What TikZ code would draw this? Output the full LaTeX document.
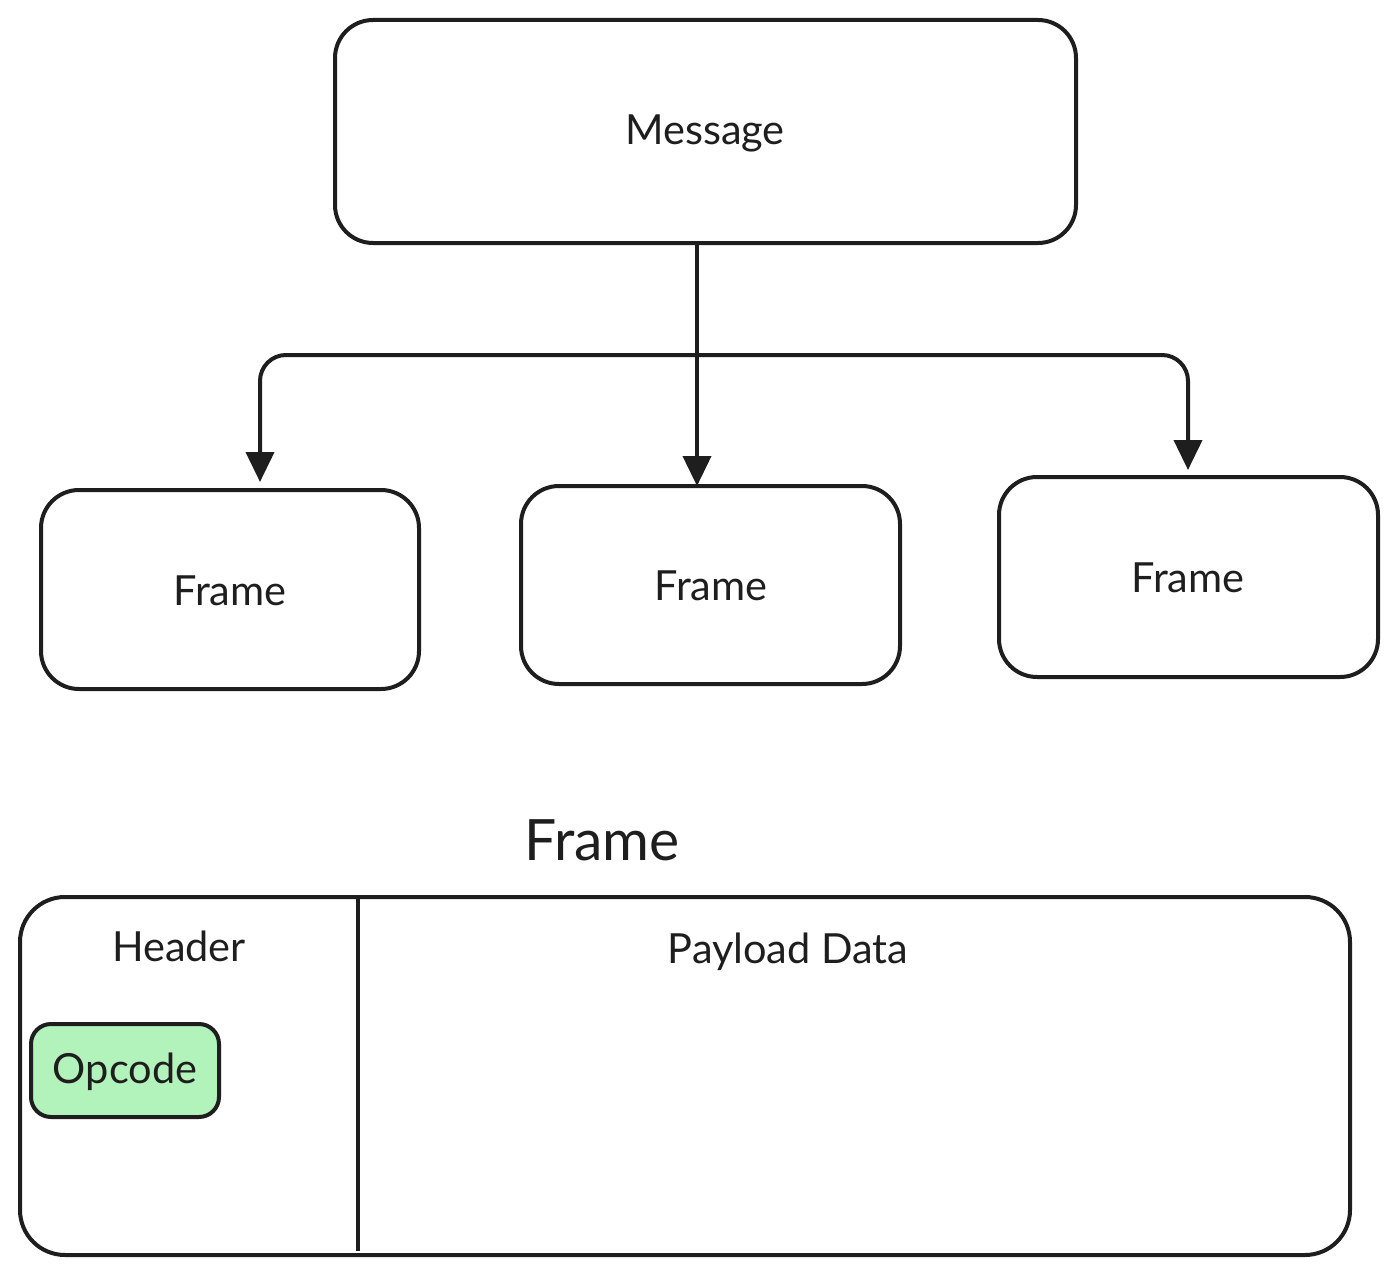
\documentclass[tikz,border=0pt]{standalone}
\usepackage{fontspec}
\setmainfont{Lato}
\usetikzlibrary{arrows.meta,calc}
\definecolor{ink}{HTML}{1E1E1E}
\definecolor{opgreen}{HTML}{B2F2BB}
\begin{document}
\begin{tikzpicture}[x=1pt,y=-1pt,
  box/.style={draw=ink,line width=4pt,rounded corners=38pt,fill=white,inner sep=0pt},
  lbl/.style={text=ink,font=\fontsize{41.5}{46}\selectfont,inner sep=0pt},
  conn/.style={draw=ink,line width=4pt,-{Triangle[width=28pt,length=30pt]},rounded corners=26pt}]
\useasboundingbox (0,0) rectangle (1397,1276);
% Message
\node[box,minimum width=741pt,minimum height=223pt] (msg) at (705.5,131.5) {};
\node[lbl] (msgt) at (705,133) {Message};
% Frames
\node[box,minimum width=378pt,minimum height=199pt] (f1) at (230,589.5) {};
\node[lbl] at (230,591) {Frame};
\node[box,minimum width=379pt,minimum height=198pt] (f2) at (710.5,585) {};
\node[lbl] at (711,586) {Frame};
\node[box,minimum width=379pt,minimum height=200pt] (f3) at (1188.5,577) {};
\node[lbl] at (1188,578) {Frame};
% connectors
\coordinate (split) at (697,355);
\coordinate (t1) at (260,482);
\coordinate (t2) at (697,486);
\coordinate (t3) at (1188,470);
\draw[conn] (msg.south -| split) -- (t2);
\draw[conn] (split) -| (t1);
\draw[conn] (split) -| (t3);
% Frame detail
\node[text=ink,font=\fontsize{57}{64}\selectfont,inner sep=0pt] (ftitle) at (602,840) {Frame};
\node[box,rounded corners=45pt,minimum width=1330pt,minimum height=358pt] (big) at (685,1076) {};
\coordinate (dtop) at (358,899);
\coordinate (dbot) at (358,1251);
\draw[draw=ink,line width=4pt] (dtop) -- (dbot);
\node[lbl] (hdr) at (179,946) {Header};
\node[lbl] (pay) at (788,952) {Payload Data};
\node[box,fill=opgreen,rounded corners=20pt,minimum width=188pt,minimum height=93pt] (op) at (125,1070.5) {};
\node[lbl] at (125,1072) {Opcode};
\end{tikzpicture}
\end{document}
